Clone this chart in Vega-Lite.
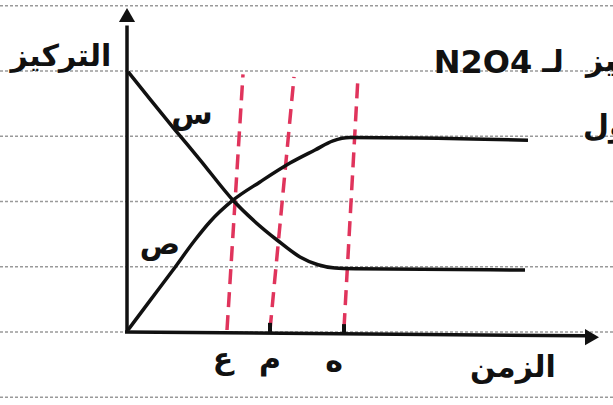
{
  "$schema": "https://vega.github.io/schema/vega-lite/v6.json",
  "width": 613,
  "height": 405,
  "padding": 0,
  "autosize": {"type": "none"},
  "background": "white",
  "config": {"view": {"stroke": null}},
  "datasets": {
    "ruled": [{"c": -1}, {"c": 0}, {"c": 1}, {"c": 2}, {"c": 3}, {"c": 4}, {"c": 5}],
    "curves": [
      {"series": "س", "t": 0.1, "c": 3.99},
      {"series": "س", "t": 2.3, "c": 3.57},
      {"series": "س", "t": 4.8, "c": 3.10},
      {"series": "س", "t": 7.3, "c": 2.64},
      {"series": "س", "t": 10.6, "c": 2.02},
      {"series": "س", "t": 12.8, "c": 1.69},
      {"series": "س", "t": 15.0, "c": 1.41},
      {"series": "س", "t": 17.3, "c": 1.15},
      {"series": "س", "t": 19.1, "c": 1.03},
      {"series": "س", "t": 20.8, "c": 0.98},
      {"series": "س", "t": 22.8, "c": 0.97},
      {"series": "س", "t": 39.8, "c": 0.95},
      {"series": "ص", "t": 0.1, "c": 0.03},
      {"series": "ص", "t": 2.3, "c": 0.48},
      {"series": "ص", "t": 4.6, "c": 0.95},
      {"series": "ص", "t": 6.8, "c": 1.41},
      {"series": "ص", "t": 8.3, "c": 1.69},
      {"series": "ص", "t": 10.6, "c": 2.02},
      {"series": "ص", "t": 13.3, "c": 2.30},
      {"series": "ص", "t": 16.3, "c": 2.59},
      {"series": "ص", "t": 18.8, "c": 2.79},
      {"series": "ص", "t": 20.6, "c": 2.93},
      {"series": "ص", "t": 22.3, "c": 2.98},
      {"series": "ص", "t": 40.1, "c": 2.94}
    ],
    "markers": [
      {"t": 10.0, "c": 0.03, "t2": 11.6, "c2": 3.95},
      {"t": 14.3, "c": 0.03, "t2": 16.7, "c2": 3.91},
      {"t": 21.7, "c": 0.06, "t2": 23.1, "c2": 3.91}
    ],
    "axes": [
      {"t": 0, "c": 0, "t2": 0, "c2": 4.7},
      {"t": -0.2, "c": 0, "t2": 45.8, "c2": -0.06}
    ],
    "ticks": [
      {"t": 14.3, "c": 0, "c2": 0.14},
      {"t": 21.7, "c": -0.02, "c2": 0.12}
    ],
    "arrowUp": [{"t": 0, "c": 4.86}],
    "arrowRight": [{"t": 46.5, "c": -0.08}],
    "labels": [
      {"label": "التركيز", "t": -6.6, "c": 4.22},
      {"label": "الزمن", "t": 38.6, "c": -0.55},
      {"label": "ع", "t": 9.6, "c": -0.43},
      {"label": "م", "t": 14.3, "c": -0.43},
      {"label": "ه", "t": 20.7, "c": -0.46},
      {"label": "س", "t": 6.5, "c": 3.32},
      {"label": "ص", "t": 3.3, "c": 1.33},
      {"label": "لـ", "t": 42.6, "c": 4.12}
    ],
    "cutLabels": [
      {"label": "تركيز", "t": 45.9, "c": 4.14},
      {"label": "الأول", "t": 45.6, "c": 3.15}
    ],
    "formula": [{"label": "N2O4", "t": 35.6, "c": 4.12}]
  },
  "encoding": {
    "x": {"field": "t", "type": "quantitative", "scale": {"domain": [-12.7, 48.6], "nice": false, "zero": false}, "axis": null},
    "y": {"field": "c", "type": "quantitative", "scale": {"domain": [-1.12, 5.09], "nice": false, "zero": false}, "axis": null}
  },
  "layer": [
    {
      "data": {"name": "ruled"},
      "mark": {"type": "rule", "color": "#9a9a9a", "strokeWidth": 1.5, "strokeDash": [3, 2]},
      "encoding": {"x": null, "y": {"field": "c", "type": "quantitative"}}
    },
    {
      "data": {"name": "markers"},
      "mark": {"type": "rule", "color": "#e0345c", "strokeWidth": 3.5, "strokeDash": [15, 8]},
      "encoding": {
        "x2": {"field": "t2"},
        "y2": {"field": "c2"}
      }
    },
    {
      "data": {"name": "axes"},
      "mark": {"type": "rule", "color": "#111", "strokeWidth": 3.5},
      "encoding": {
        "x2": {"field": "t2"},
        "y2": {"field": "c2"}
      }
    },
    {
      "data": {"name": "ticks"},
      "mark": {"type": "rule", "color": "#111", "strokeWidth": 4},
      "encoding": {"y2": {"field": "c2"}}
    },
    {
      "data": {"name": "arrowUp"},
      "mark": {"type": "point", "shape": "triangle-up", "filled": true, "color": "#111", "size": 260, "opacity": 1}
    },
    {
      "data": {"name": "arrowRight"},
      "mark": {"type": "point", "shape": "triangle-right", "filled": true, "color": "#111", "size": 260, "opacity": 1}
    },
    {
      "data": {"name": "curves"},
      "mark": {"type": "line", "color": "#111", "strokeWidth": 3.5, "interpolate": "monotone"},
      "encoding": {"detail": {"field": "series", "type": "nominal"}}
    },
    {
      "data": {"name": "labels"},
      "mark": {"type": "text", "font": "DejaVu Sans", "fontSize": 30, "fontWeight": "bold", "color": "#111", "align": "center", "baseline": "middle"},
      "encoding": {"text": {"field": "label", "type": "nominal"}}
    },
    {
      "data": {"name": "cutLabels"},
      "mark": {"type": "text", "font": "DejaVu Sans", "fontSize": 30, "fontWeight": "bold", "color": "#111", "align": "left", "baseline": "middle", "clip": true},
      "encoding": {"text": {"field": "label", "type": "nominal"}}
    },
    {
      "data": {"name": "formula"},
      "mark": {"type": "text", "font": "DejaVu Sans", "fontSize": 32, "fontWeight": "bold", "color": "#111", "align": "center", "baseline": "middle"},
      "encoding": {"text": {"field": "label", "type": "nominal"}}
    }
  ]
}
